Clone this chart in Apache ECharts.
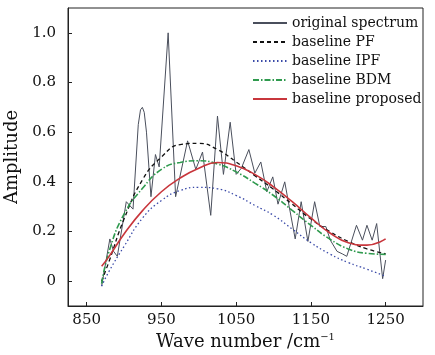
<!DOCTYPE html>
<html>
<head>
<meta charset="utf-8">
<script src="https://cdn.jsdelivr.net/npm/echarts@6/dist/echarts.min.js"></script>
<style>
  html, body { margin: 0; padding: 0; background: #fff; }
  #chart { width: 435px; height: 355px; }
</style>
</head>
<body>
<div id="chart"></div>
<script>
// wave numbers / amplitudes
const specX = [870, 881, 886, 891, 903, 912, 919, 922, 924.5, 927, 930, 936, 942, 947, 959, 969, 985, 996, 1005, 1016, 1025, 1033, 1042, 1050, 1057, 1067, 1075, 1083, 1091, 1099, 1106, 1115, 1121, 1129, 1137, 1146, 1155, 1162, 1170, 1176, 1185, 1192, 1198, 1211, 1219, 1225, 1232, 1238, 1246, 1250]
const specY = [-0.02, 0.17, 0.12, 0.10, 0.32, 0.29, 0.63, 0.69, 0.70, 0.68, 0.60, 0.34, 0.51, 0.46, 1.0, 0.34, 0.565, 0.45, 0.52, 0.265, 0.665, 0.43, 0.64, 0.43, 0.455, 0.53, 0.435, 0.48, 0.36, 0.42, 0.31, 0.40, 0.30, 0.17, 0.32, 0.16, 0.32, 0.22, 0.22, 0.165, 0.12, 0.11, 0.10, 0.225, 0.165, 0.225, 0.165, 0.232, 0.01, 0.085]

const baseX = [870, 880, 900, 925, 950, 975, 1000, 1025, 1050, 1075, 1100, 1125, 1150, 1175, 1200, 1225, 1250]
const pfY = [0.0, 0.08, 0.25, 0.41, 0.50, 0.55, 0.555, 0.53, 0.48, 0.425, 0.37, 0.31, 0.25, 0.20, 0.16, 0.13, 0.11]
const ipfY = [-0.02, 0.04, 0.14, 0.255, 0.325, 0.365, 0.378, 0.372, 0.345, 0.305, 0.265, 0.21, 0.155, 0.11, 0.075, 0.048, 0.02]
const bdmY = [-0.01, 0.12, 0.27, 0.375, 0.45, 0.478, 0.485, 0.472, 0.44, 0.395, 0.345, 0.285, 0.225, 0.17, 0.13, 0.112, 0.108]
const propY = [0.06, 0.10, 0.19, 0.285, 0.36, 0.415, 0.455, 0.478, 0.465, 0.43, 0.38, 0.32, 0.255, 0.195, 0.155, 0.145, 0.17]

const xTicks = [850, 950, 1050, 1150, 1250]
const yTicks = [0, 0.2, 0.4, 0.6, 0.8, 1.0]
const names = ['original spectrum', 'baseline PF', 'baseline IPF', 'baseline BDM', 'baseline proposed']

const zip = (xs, ys) => xs.map((x, i) => [x, ys[i]])
const font = 'DejaVu Serif'

const line = (name, data, color, width, type, smooth) => ({
  name: name,
  type: 'line',
  data: data,
  symbol: 'none',
  smooth: smooth,
  lineStyle: { color: color, width: width, type: type },
  itemStyle: { color: color }
})

const option = {
  animation: false,
  grid: {
    left: 68, right: 12, top: 8, bottom: 49,
    show: true, borderColor: '#222', borderWidth: 1,
    outerBoundsMode: 'none'
  },
  legend: {
    data: names,
    orient: 'vertical',
    left: 252, top: 16,
    padding: 0,
    itemWidth: 34, itemHeight: 14, itemGap: 5,
    itemStyle: { opacity: 0 },
    textStyle: { fontFamily: font, fontSize: 14, color: '#111' }
  },
  xAxis: {
    type: 'value',
    min: 825, max: 1300,
    name: 'Wave number /cm{sup|−1}',
    nameLocation: 'middle',
    nameGap: 26,
    nameTextStyle: {
      fontFamily: font, fontSize: 18, color: '#111', verticalAlign: 'top',
      rich: { sup: { fontFamily: font, fontSize: 10, color: '#111', verticalAlign: 'top', padding: [0, 0, 8, 0] } }
    },
    axisLine: { onZero: false, lineStyle: { color: '#222' } },
    axisTick: { inside: true, length: 4, customValues: xTicks, lineStyle: { color: '#222' } },
    axisLabel: {
      customValues: xTicks, margin: 7, fontFamily: font, fontSize: 15, color: '#111',
      formatter: (v) => String(v)
    },
    splitLine: { show: false }
  },
  yAxis: {
    type: 'value',
    min: -0.1, max: 1.1,
    name: 'Amplitude',
    nameLocation: 'middle',
    nameGap: 32,
    nameTextStyle: { fontFamily: font, fontSize: 18, color: '#111' },
    axisLine: { show: true, onZero: false, lineStyle: { color: '#222' } },
    axisTick: { show: true, inside: true, length: 4, customValues: yTicks, lineStyle: { color: '#222' } },
    axisLabel: {
      customValues: yTicks, margin: 12, fontFamily: font, fontSize: 15, color: '#111',
      formatter: (v) => (v === 0 ? '0' : v.toFixed(1))
    },
    splitLine: { show: false }
  },
  series: [
    line(names[0], zip(specX, specY), '#4a4f5c', 1, 'solid', false),
    line(names[1], zip(baseX, pfY), '#111111', 1.3, [4, 3], true),
    line(names[2], zip(baseX, ipfY), '#3a4aa8', 1.3, [1.5, 2.5], true),
    line(names[3], zip(baseX, bdmY), '#2f9a4e', 1.6, [6, 2, 1.5, 2], true),
    line(names[4], zip(baseX, propY), '#c8363c', 1.6, 'solid', true)
  ]
}

const myChart = echarts.init(document.getElementById('chart'))
option && myChart.setOption(option)
</script>
</body>
</html>
